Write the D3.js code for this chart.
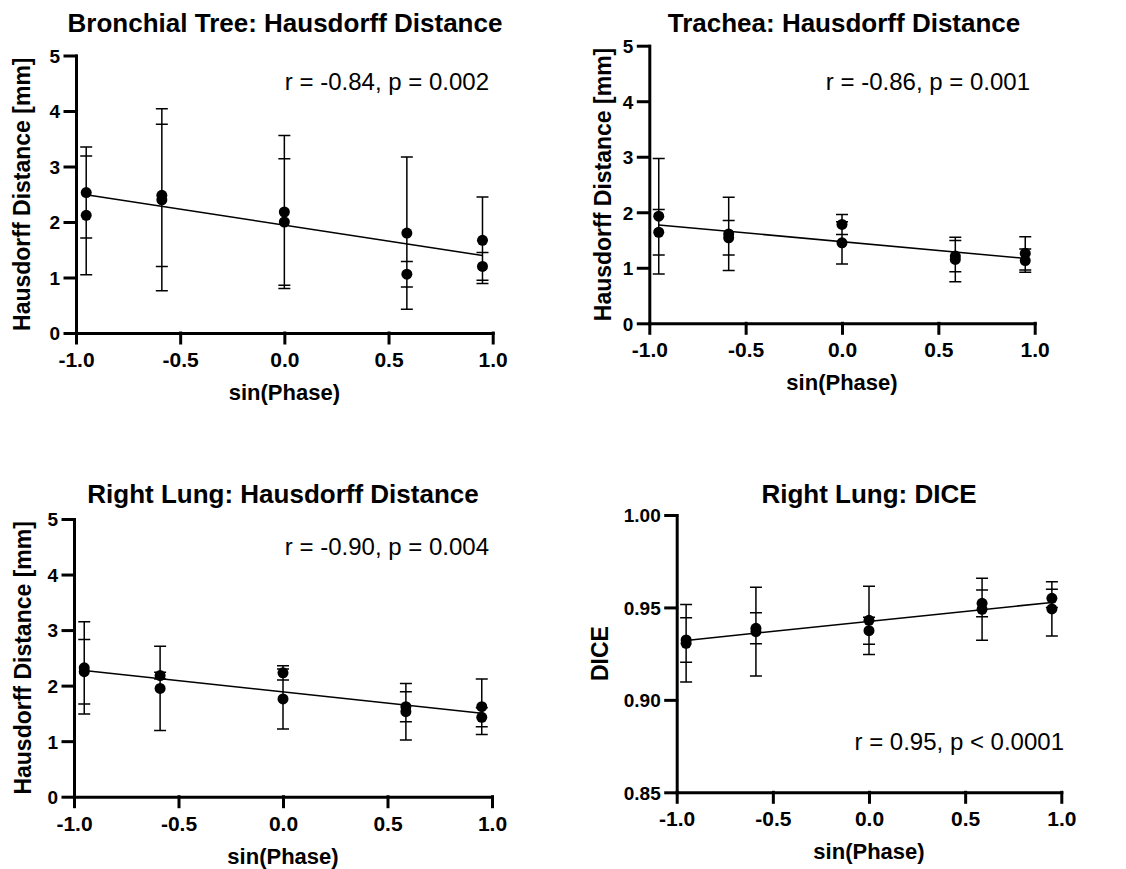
<!DOCTYPE html>
<html>
<head>
<meta charset="utf-8">
<script src="https://cdn.jsdelivr.net/npm/d3@7"></script>
<style>
  body { margin: 0; background: #fff; }
  text { font-family: "Liberation Sans", Arial, sans-serif; fill: #000; }
</style>
</head>
<body>
<div id="vis"></div>
<script>
/* data */
let sinPhase = [-0.951, -0.588, 0, 0.588, 0.951];

let bronchialA   = [2.53, 2.48, 2.18, 1.80, 1.67];
let bronchialASd = [0.82, 1.28, 1.38, 1.37, 0.78];
let bronchialB   = [2.12, 2.40, 2.00, 1.06, 1.20];
let bronchialBSd = [1.07, 1.64, 1.14, 0.23, 0.25];

let tracheaA   = [1.93, 1.61, 1.78, 1.21, 1.26];
let tracheaASd = [1.04, 0.66, 0.18, 0.28, 0.30];
let tracheaB   = [1.64, 1.54, 1.45, 1.15, 1.13];
let tracheaBSd = [0.41, 0.31, 0.38, 0.40, 0.21];

let lungHdA   = [2.32, 2.18, 2.23, 1.62, 1.62];
let lungHdASd = [0.83, 0.06, 0.13, 0.27, 0.50];
let lungHdB   = [2.25, 1.95, 1.76, 1.53, 1.43];
let lungHdBSd = [0.58, 0.76, 0.54, 0.51, 0.17];

let diceA   = [0.9324, 0.9387, 0.9430, 0.9522, 0.9549];
let diceASd = [0.0120, 0.0084, 0.0185, 0.0072, 0.0050];
let diceB   = [0.9306, 0.9369, 0.9374, 0.9490, 0.9492];
let diceBSd = [0.0210, 0.0240, 0.0073, 0.0168, 0.0147];

let titles = [
  "Bronchial Tree: Hausdorff Distance",
  "Trachea: Hausdorff Distance",
  "Right Lung: Hausdorff Distance",
  "Right Lung: DICE"];
let statsText = [
  "r = -0.84, p = 0.002",
  "r = -0.86, p = 0.001",
  "r = -0.90, p = 0.004",
  "r = 0.95, p < 0.0001"];
let yLabels = ["Hausdorff Distance [mm]", "Hausdorff Distance [mm]",
               "Hausdorff Distance [mm]", "DICE"];
let xLabel = "sin(Phase)";
let xTicks = [-1.0, -0.5, 0.0, 0.5, 1.0];
let hdTicks = [0, 1, 2, 3, 4, 5];
let diceTicks = [0.85, 0.90, 0.95, 1.00];

/* plain hyphen minus, like the original */
let fmt = spec => v => d3.format(spec)(v).replace("\u2212", "-");

/* geometry, one entry per panel */
let panels = [
  { left: 76,    right: 492.7,  top: 55.5, bottom: 333,
    yDomain: [0, 5], yTicks: hdTicks, yFmt: fmt("d"),
    titleX: 285, titleY: 32, yLabX: 30, statX: 489, statY: 90,
    series: [[bronchialA, bronchialASd], [bronchialB, bronchialBSd]] },
  { left: 649.3, right: 1034.7, top: 45.7, bottom: 323.3,
    yDomain: [0, 5], yTicks: hdTicks, yFmt: fmt("d"),
    titleX: 844, titleY: 32, yLabX: 611, statX: 1030, statY: 90,
    series: [[tracheaA, tracheaASd], [tracheaB, tracheaBSd]] },
  { left: 74,    right: 492,    top: 519, bottom: 796.7,
    yDomain: [0, 5], yTicks: hdTicks, yFmt: fmt("d"),
    titleX: 283, titleY: 503, yLabX: 31, statX: 489, statY: 555,
    series: [[lungHdA, lungHdASd], [lungHdB, lungHdBSd]] },
  { left: 676.7, right: 1061.3, top: 515, bottom: 792.3,
    yDomain: [0.85, 1.00], yTicks: diceTicks, yFmt: fmt(".2f"),
    titleX: 869, titleY: 503, yLabX: 608, statX: 1064, statY: 750,
    series: [[diceA, diceASd], [diceB, diceBSd]] },
];

let width = 1126, height = 869;
let svg = d3.select("#vis").append("svg")
  .attr("width", width)
  .attr("height", height)
  .style("background-color", "#fff");

function drawPanel (p, i) {
  let g = svg.append("g");
  let x = d3.scaleLinear().domain([-1, 1]).range([p.left, p.right]);
  let y = d3.scaleLinear().domain(p.yDomain).range([p.bottom, p.top]);

  /* axes */
  let xAxis = g.append("g")
    .attr("transform", "translate(0," + p.bottom + ")")
    .call(d3.axisBottom(x).tickValues(xTicks).tickFormat(fmt(".1f"))
      .tickSize(10).tickSizeOuter(0).tickPadding(9));
  let yAxis = g.append("g")
    .attr("transform", "translate(" + p.left + ",0)")
    .call(d3.axisLeft(y).tickValues(p.yTicks).tickFormat(p.yFmt)
      .tickSize(11).tickSizeOuter(0).tickPadding(5));
  [xAxis, yAxis].forEach(a => {
    a.attr("font-family", null).attr("font-size", null);
    a.selectAll("path, line").attr("stroke", "#000").attr("stroke-width", 3)
      .attr("stroke-linecap", "square");
    a.selectAll("text").attr("font-weight", "bold");
  });
  xAxis.selectAll("text").attr("font-size", 21);
  yAxis.selectAll("text").attr("font-size", 19).attr("dy", "0.36em");

  /* titles */
  g.append("text")
    .attr("x", p.titleX).attr("y", p.titleY)
    .attr("text-anchor", "middle")
    .attr("font-size", 26).attr("font-weight", "bold")
    .text(titles[i]);
  g.append("text")
    .attr("x", (p.left + p.right) / 2).attr("y", p.bottom + 67)
    .attr("text-anchor", "middle")
    .attr("font-size", 22).attr("font-weight", "bold")
    .text(xLabel);
  g.append("text")
    .attr("transform", "translate(" + p.yLabX + "," + (p.top + p.bottom) / 2 + ") rotate(-90)")
    .attr("text-anchor", "middle")
    .attr("font-size", 23).attr("font-weight", "bold")
    .text(yLabels[i]);
  g.append("text")
    .attr("x", p.statX).attr("y", p.statY)
    .attr("text-anchor", "end")
    .attr("font-size", 24)
    .text(statsText[i]);

  /* flatten both series into points */
  let pts = [];
  p.series.forEach(([m, sd]) => {
    m.forEach((v, j) => pts.push({ x: sinPhase[j], y: v, sd: sd[j] }));
  });

  /* error bars */
  let cap = 6;
  let eb = d3.path();
  pts.forEach(d => {
    let px = x(d.x), hi = y(d.y + d.sd), lo = y(d.y - d.sd);
    eb.moveTo(px, hi); eb.lineTo(px, lo);
    eb.moveTo(px - cap, hi); eb.lineTo(px + cap, hi);
    eb.moveTo(px - cap, lo); eb.lineTo(px + cap, lo);
  });
  g.append("path")
    .attr("d", eb.toString())
    .attr("fill", "none")
    .attr("stroke", "#000")
    .attr("stroke-width", 1.5);

  /* least squares fit over all points */
  let mx = d3.mean(pts, d => d.x), my = d3.mean(pts, d => d.y);
  let slope = d3.sum(pts, d => (d.x - mx) * (d.y - my)) /
              d3.sum(pts, d => (d.x - mx) * (d.x - mx));
  let ext = d3.extent(sinPhase);
  g.append("path")
    .attr("d", d3.line().x(d => x(d)).y(d => y(my + slope * (d - mx)))(ext))
    .attr("fill", "none")
    .attr("stroke", "#000")
    .attr("stroke-width", 1.5);

  /* points */
  g.selectAll(".dot")
    .data(pts)
    .enter().append("circle")
      .attr("cx", d => x(d.x))
      .attr("cy", d => y(d.y))
      .attr("r", 5.5)
      .attr("fill", "#000");
}

panels.forEach(drawPanel);
</script>
</body>
</html>
